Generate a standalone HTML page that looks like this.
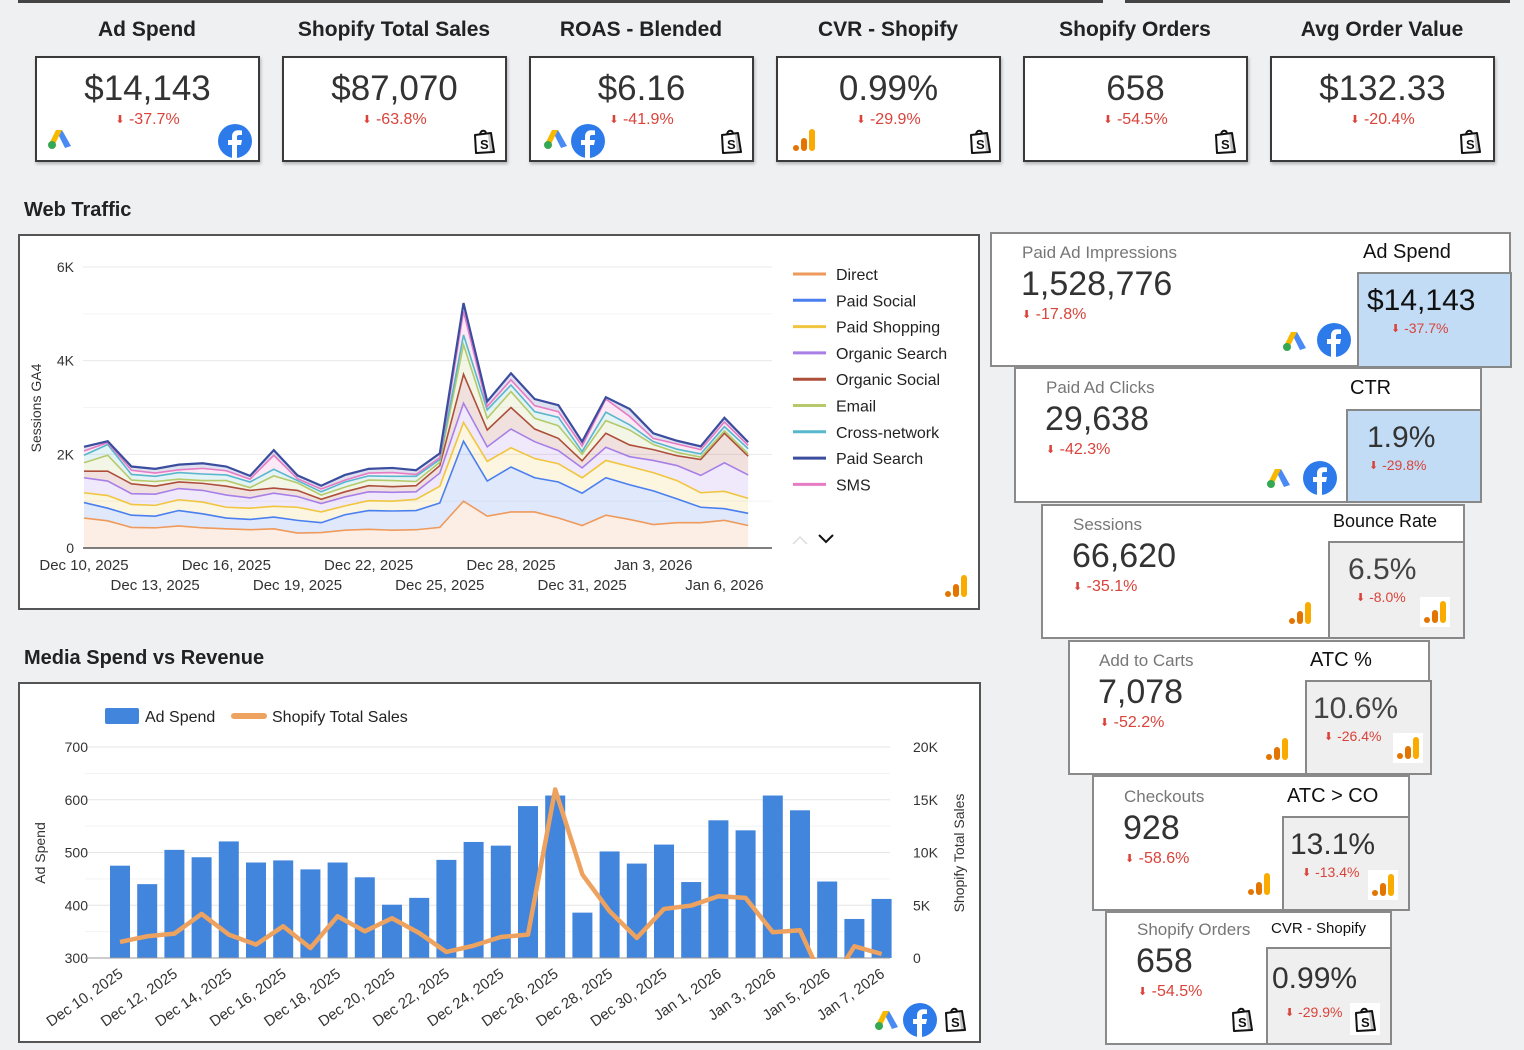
<!DOCTYPE html>
<html><head><meta charset="utf-8">
<style>
body{margin:0;width:1524px;height:1050px;background:#eef0f2;font-family:"Liberation Sans",sans-serif;position:relative;overflow:hidden}
.a{position:absolute}
.kt{position:absolute;font-weight:bold;font-size:21px;color:#222;text-align:center;width:240px;top:18px}
.kc{position:absolute;top:56px;width:221px;height:102px;background:#fff;border:2px solid #3a3a3a;box-shadow:1px 2px 3px rgba(0,0,0,.25)}
.kv{position:absolute;left:0;width:100%;top:11px;text-align:center;font-size:35px;color:#333}
.kd{position:absolute;left:0;width:100%;top:53px;text-align:center;font-size:16px;color:#d9433a}
.arr{font-size:11px;vertical-align:1px}
.card{position:absolute;background:#fff;border:2px solid #8a8a8a}
.lbl{position:absolute;font-size:17px;color:#777}
.val{position:absolute;font-size:34px;color:#333}
.dl{position:absolute;font-size:16px;color:#d9433a}
.rt{position:absolute;font-size:20px;color:#111}
.box{position:absolute;border:2px solid #888}
.sec{position:absolute;font-weight:bold;font-size:20px;color:#222}
svg text{font-family:"Liberation Sans",sans-serif}
</style></head><body>
<div class="a" style="left:18px;top:-4px;width:1085px;height:4px;border-bottom:3px solid #444"></div>
<div class="a" style="left:1125px;top:-4px;width:385px;height:4px;border-bottom:3px solid #444"></div>

<div class="kt" style="left:27px">Ad Spend</div>
<div class="kc" style="left:35px"><div class="kv">$14,143</div><div class="kd"><span class="arr">⬇</span> -37.7%</div><span class="ico" data-i="ads" style="left:10px;top:70px"></span><span class="ico" data-i="fb" style="left:181px;top:66px"></span></div>
<div class="kt" style="left:274px">Shopify Total Sales</div>
<div class="kc" style="left:282px"><div class="kv">$87,070</div><div class="kd"><span class="arr">⬇</span> -63.8%</div><span class="ico" data-i="shop" style="left:188px;top:70px"></span></div>
<div class="kt" style="left:521px">ROAS - Blended</div>
<div class="kc" style="left:529px"><div class="kv">$6.16</div><div class="kd"><span class="arr">⬇</span> -41.9%</div><span class="ico" data-i="ads" style="left:12px;top:70px"></span><span class="ico" data-i="fb" style="left:40px;top:66px"></span><span class="ico" data-i="shop" style="left:188px;top:70px"></span></div>
<div class="kt" style="left:768px">CVR - Shopify</div>
<div class="kc" style="left:776px"><div class="kv">0.99%</div><div class="kd"><span class="arr">⬇</span> -29.9%</div><span class="ico" data-i="ga" style="left:14px;top:70px"></span><span class="ico" data-i="shop" style="left:190px;top:70px"></span></div>
<div class="kt" style="left:1015px">Shopify Orders</div>
<div class="kc" style="left:1023px"><div class="kv">658</div><div class="kd"><span class="arr">⬇</span> -54.5%</div><span class="ico" data-i="shop" style="left:188px;top:70px"></span></div>
<div class="kt" style="left:1262px">Avg Order Value</div>
<div class="kc" style="left:1270px"><div class="kv">$132.33</div><div class="kd"><span class="arr">⬇</span> -20.4%</div><span class="ico" data-i="shop" style="left:186px;top:70px"></span></div>

<div class="sec" style="left:24px;top:199px">Web Traffic</div>
<div class="a" style="left:18px;top:234px;width:958px;height:372px;background:#fff;border:2px solid #555">
<svg id="wt" width="962" height="376" style="position:absolute;left:-2px;top:-2px"><g id="wtg" transform="translate(-18,-234)"></g></svg>
</div>

<div class="sec" style="left:24px;top:647px">Media Spend vs Revenue</div>
<div class="a" style="left:18px;top:682px;width:959px;height:357px;background:#fff;border:2px solid #555">
<svg id="ms" width="963" height="361" style="position:absolute;left:-2px;top:-2px"><g id="msg" transform="translate(-18,-682)"></g></svg>
</div>

<div class="card" style="left:990px;top:232px;width:517px;height:131px"></div>
<div class="lbl" style="left:1022px;top:243px">Paid Ad Impressions</div>
<div class="val" style="left:1021px;top:265px">1,528,776</div>
<div class="dl" style="left:1022px;top:306px"><span class="arr">⬇</span> -17.8%</div>
<span class="ico" data-i="ads" style="left:1282px;top:330px"></span><span class="ico" data-i="fb" style="left:1317px;top:323px"></span>
<div class="rt" style="left:1363px;top:241px">Ad Spend</div>
<div class="box" style="left:1357px;top:272px;width:151px;height:92px;background:#c2dcf6"></div>
<div class="a" style="left:1367px;top:284px;font-size:30px;color:#111">$14,143</div>
<div class="dl" style="left:1391px;top:320px;font-size:14px"><span class="arr">⬇</span> -37.7%</div>

<div class="card" style="left:1014px;top:367px;width:464px;height:132px"></div>
<div class="lbl" style="left:1046px;top:378px">Paid Ad Clicks</div>
<div class="val" style="left:1045px;top:400px">29,638</div>
<div class="dl" style="left:1046px;top:441px"><span class="arr">⬇</span> -42.3%</div>
<span class="ico" data-i="ads" style="left:1266px;top:467px"></span><span class="ico" data-i="fb" style="left:1303px;top:461px"></span>
<div class="rt" style="left:1350px;top:377px">CTR</div>
<div class="box" style="left:1346px;top:409px;width:132px;height:90px;background:#c2dcf6"></div>
<div class="a" style="left:1367px;top:421px;font-size:30px;color:#333">1.9%</div>
<div class="dl" style="left:1369px;top:457px;font-size:14px"><span class="arr">⬇</span> -29.8%</div>

<div class="card" style="left:1041px;top:504px;width:420px;height:131px"></div>
<div class="lbl" style="left:1073px;top:515px">Sessions</div>
<div class="val" style="left:1072px;top:537px">66,620</div>
<div class="dl" style="left:1073px;top:578px"><span class="arr">⬇</span> -35.1%</div>
<span class="ico" data-i="ga" style="left:1288px;top:601px"></span>
<div class="rt" style="left:1333px;top:511px;font-size:18px">Bounce Rate</div>
<div class="box" style="left:1328px;top:541px;width:133px;height:94px;background:#efefef"></div>
<div class="a" style="left:1348px;top:553px;font-size:30px;color:#444">6.5%</div>
<div class="dl" style="left:1356px;top:589px;font-size:14px"><span class="arr">⬇</span> -8.0%</div>
<span class="ico wb" data-i="ga" style="left:1420px;top:597px"></span>

<div class="card" style="left:1068px;top:640px;width:358px;height:131px"></div>
<div class="lbl" style="left:1099px;top:651px">Add to Carts</div>
<div class="val" style="left:1098px;top:673px">7,078</div>
<div class="dl" style="left:1100px;top:714px"><span class="arr">⬇</span> -52.2%</div>
<span class="ico" data-i="ga" style="left:1265px;top:737px"></span>
<div class="rt" style="left:1310px;top:649px">ATC %</div>
<div class="box" style="left:1305px;top:680px;width:123px;height:91px;background:#efefef"></div>
<div class="a" style="left:1313px;top:692px;font-size:30px;color:#444">10.6%</div>
<div class="dl" style="left:1324px;top:728px;font-size:14px"><span class="arr">⬇</span> -26.4%</div>
<span class="ico wb" data-i="ga" style="left:1393px;top:733px"></span>

<div class="card" style="left:1092px;top:775px;width:314px;height:132px"></div>
<div class="lbl" style="left:1124px;top:787px">Checkouts</div>
<div class="val" style="left:1123px;top:809px">928</div>
<div class="dl" style="left:1125px;top:850px"><span class="arr">⬇</span> -58.6%</div>
<span class="ico" data-i="ga" style="left:1247px;top:872px"></span>
<div class="rt" style="left:1287px;top:785px">ATC &gt; CO</div>
<div class="box" style="left:1282px;top:816px;width:124px;height:91px;background:#efefef"></div>
<div class="a" style="left:1290px;top:828px;font-size:30px;color:#333">13.1%</div>
<div class="dl" style="left:1302px;top:864px;font-size:14px"><span class="arr">⬇</span> -13.4%</div>
<span class="ico wb" data-i="ga" style="left:1368px;top:870px"></span>

<div class="card" style="left:1105px;top:911px;width:283px;height:130px"></div>
<div class="lbl" style="left:1137px;top:920px">Shopify Orders</div>
<div class="val" style="left:1136px;top:942px">658</div>
<div class="dl" style="left:1138px;top:983px"><span class="arr">⬇</span> -54.5%</div>
<span class="ico" data-i="shop" style="left:1230px;top:1006px"></span>
<div class="rt" style="left:1271px;top:920px;font-size:15px">CVR - Shopify</div>
<div class="box" style="left:1266px;top:947px;width:122px;height:94px;background:#efefef"></div>
<div class="a" style="left:1272px;top:962px;font-size:30px;color:#333">0.99%</div>
<div class="dl" style="left:1285px;top:1004px;font-size:14px"><span class="arr">⬇</span> -29.9%</div>
<span class="ico wb" data-i="shop" style="left:1350px;top:1003px"></span>

<span class="ico" data-i="ga" style="left:944px;top:574px"></span>
<span class="ico" data-i="ads" style="left:874px;top:1009px"></span>
<span class="ico" data-i="fb" style="left:903px;top:1003px"></span>
<span class="ico" data-i="shop" style="left:943px;top:1006px"></span>

<script>
const wtDates = ["Dec 10","Dec 11","Dec 12","Dec 13","Dec 14","Dec 15","Dec 16","Dec 17","Dec 18","Dec 19","Dec 20","Dec 21","Dec 22","Dec 23","Dec 24","Dec 25","Dec 26","Dec 27","Dec 28","Dec 29","Dec 30","Dec 31","Jan 1","Jan 2","Jan 3","Jan 4","Jan 5","Jan 6","Jan 7"];
const direct      = [640,580,440,430,470,430,410,390,410,320,330,380,400,380,390,440,1000,680,770,770,640,480,700,610,500,540,540,590,480];
const paidSocial  = [330,270,260,250,330,300,230,220,250,270,210,330,400,410,410,520,1280,750,960,730,770,690,800,740,720,510,330,250,260];
const paidShopping= [210,270,230,230,230,250,230,240,230,280,230,190,210,210,240,360,400,420,410,410,390,330,370,390,390,390,310,370,320];
const organicSearch=[320,310,230,240,240,250,260,220,280,230,180,190,190,190,160,280,410,310,400,360,280,210,280,210,260,320,370,610,500];
const organicSocial=[140,210,210,170,140,150,190,160,110,130,90,110,130,120,130,160,620,360,460,270,260,150,300,250,230,210,340,630,400];
const email       = [180,340,80,100,60,60,120,60,260,160,90,100,120,130,90,70,630,250,340,230,270,140,270,320,110,70,50,50,50];
const crossNetwork= [160,230,120,110,140,140,120,120,140,50,70,110,90,90,110,60,210,180,140,140,180,60,180,110,60,70,70,90,110];
const paidSearch  = [90,30,80,90,110,110,90,70,110,70,70,110,90,100,90,90,180,110,140,140,140,90,40,160,110,70,70,90,70];
const sms         = [90,40,90,70,60,120,90,60,300,40,60,40,60,80,40,40,500,70,110,130,120,120,280,180,70,110,90,100,70];
const wtSeries = [direct,paidSocial,paidShopping,organicSearch,organicSocial,email,crossNetwork,sms,paidSearch];
const wtStackNames = ["Direct","Paid Social","Paid Shopping","Organic Search","Organic Social","Email","Cross-network","SMS","Paid Search"];
const wtNames = ["Direct","Paid Social","Paid Shopping","Organic Search","Organic Social","Email","Cross-network","Paid Search","SMS"];
const wtTicks = [0,2000,4000,6000];
const wtTickLabels = ["0","2K","4K","6K"];
const wtXLabels = [["Dec 10, 2025",0,0],["Dec 13, 2025",3,1],["Dec 16, 2025",6,0],["Dec 19, 2025",9,1],["Dec 22, 2025",12,0],["Dec 25, 2025",15,1],["Dec 28, 2025",18,0],["Dec 31, 2025",21,1],["Jan 3, 2026",24,0],["Jan 6, 2026",27,1]];

const msDates = ["Dec 10, 2025","Dec 11, 2025","Dec 12, 2025","Dec 13, 2025","Dec 14, 2025","Dec 15, 2025","Dec 16, 2025","Dec 17, 2025","Dec 18, 2025","Dec 19, 2025","Dec 20, 2025","Dec 21, 2025","Dec 22, 2025","Dec 23, 2025","Dec 24, 2025","Dec 25, 2025","Dec 26, 2025","Dec 27, 2025","Dec 28, 2025","Dec 29, 2025","Dec 30, 2025","Dec 31, 2025","Jan 1, 2026","Jan 2, 2026","Jan 3, 2026","Jan 4, 2026","Jan 5, 2026","Jan 6, 2026","Jan 7, 2026"];
const adSpend = [475,440,505,491,521,481,485,468,481,453,401,414,486,520,513,588,608,386,502,479,515,444,561,542,608,580,445,374,412];
const shopifySales = [1520,2060,2310,4180,2220,1270,3010,950,3960,2530,3770,2370,570,1170,1990,2220,15980,7910,4430,1900,4650,4970,5850,5700,2440,2630,-3000,1110,380];
const leftTicks = [300,400,500,600,700];
const rightTicks = [0,5000,10000,15000,20000];
const rightTickLabels = ["0","5K","10K","15K","20K"];

const NS="http://www.w3.org/2000/svg";
function mk(parent,tag,attrs,txt){const e=document.createElementNS(NS,tag);for(const k in attrs)e.setAttribute(k,attrs[k]);if(txt!==undefined)e.textContent=txt;parent.appendChild(e);return e;}

(function(){
 const g=document.getElementById('wtg');
 const x0=84,dx=23.72,y0=548,yTop=267;
 const xs=i=>x0+dx*i, ys=v=>y0-(v/6000)*(y0-yTop);
 const colorMap={"Direct":"#ee9a5d","Paid Social":"#4a7ff0","Paid Shopping":"#f0c53f","Organic Search":"#a77fe6","Organic Social":"#ad4f3a","Email":"#b6c96a","Cross-network":"#58b7cb","Paid Search":"#3b4d9e","SMS":"#e57cc4"};
 for(let v=1000;v<=6000;v+=1000){const l=mk(g,'line',{x1:83,x2:772,y1:ys(v),y2:ys(v),stroke:v%2000?'#f4f4f4':'#e8e8e8','stroke-width':1});
  
  }
 wtTicks.forEach((v,k)=>{const t=mk(g,'text',{x:74,y:ys(v)+5,'text-anchor':'end','font-size':14,fill:'#333'},wtTickLabels[k]);
  
  });
 const yt=mk(g,'text',{x:0,y:0,transform:'translate(41,408) rotate(-90)','text-anchor':'middle','font-size':14,fill:'#333'},'Sessions GA4');
 
 
 let prev=direct.map(()=>0);
 const tops=[];
 wtSeries.forEach((s,k)=>{const cur=s.map((v,i)=>prev[i]+v);
  let d='M'+cur.map((v,i)=>xs(i)+','+ys(v)).join(' L');
  for(let i=cur.length-1;i>=0;i--)d+=' L'+xs(i)+','+ys(prev[i]);
  const p=mk(g,'path',{d:d+'Z',fill:colorMap[wtStackNames[k]],'fill-opacity':0.17,stroke:'none'});
  
  
  tops.push(cur);prev=cur;});
 tops.forEach((cur,k)=>{const l=mk(g,'polyline',{points:cur.map((v,i)=>xs(i)+','+ys(v)).join(' '),fill:'none',stroke:colorMap[wtStackNames[k]],'stroke-width':k===tops.length-1?2.2:1.6});
  
  });
 const ax=mk(g,'line',{x1:83,x2:772,y1:y0,y2:y0,stroke:'#555','stroke-width':1.5});
 
 
 wtXLabels.forEach(([lab,i,row])=>{const t=mk(g,'text',{x:xs(i),y:row?590:570,'text-anchor':'middle','font-size':15,fill:'#333'},lab);
  
  });
 wtNames.forEach((n,k)=>{const y=274+26.3*k;
  const l=mk(g,'line',{x1:793,x2:826,y1:y,y2:y,stroke:colorMap[n],'stroke-width':3});
  
  
  const t=mk(g,'text',{x:836,y:y+6,'font-size':16,fill:'#222'},n);
  
  });
 const up=mk(g,'path',{d:'M793,544 L800,537 L807,544',fill:'none',stroke:'#ddd','stroke-width':1.5});
 
 
 const dn=mk(g,'path',{d:'M819,535 L826,542 L833,535',fill:'none',stroke:'#111','stroke-width':2});
 
 
})();

(function(){
 const g=document.getElementById('msg');
 const x0=120,dx=27.2,yb=958,yt=747;
 const xb=i=>x0+dx*i, yL=v=>yb-(v-300)/400*(yb-yt), yR=v=>yb-v/20000*(yb-yt);
 for(let v=350;v<=700;v+=50){const l=mk(g,'line',{x1:85,x2:890,y1:yL(v),y2:yL(v),stroke:v%100?'#f3f3f3':'#e6e6e6','stroke-width':1});
  
  }
 leftTicks.forEach(v=>{const t=mk(g,'text',{x:88,y:yL(v)+5,'text-anchor':'end','font-size':14,fill:'#333'},String(v));
  
  });
 rightTicks.forEach((v,k)=>{const t=mk(g,'text',{x:913,y:yR(v)+5,'font-size':14,fill:'#333'},rightTickLabels[k]);
  
  });
 adSpend.forEach((v,i)=>{const r=mk(g,'rect',{x:xb(i)-10,y:yL(v),width:20,height:yb-yL(v),fill:'#4285dc'});
  
  });
 const ax=mk(g,'line',{x1:85,x2:890,y1:yb,y2:yb,stroke:'#999','stroke-width':1});
 
 
 const defs=mk(g,'defs',{});const cp=mk(defs,'clipPath',{id:'msclip'});mk(cp,'rect',{x:85,y:700,width:810,height:yb-700+1});
 const ln=mk(g,'polyline',{points:shopifySales.map((v,i)=>xb(i)+','+yR(v)).join(' '),fill:'none',stroke:'#eda35f','stroke-width':4.5,'stroke-linejoin':'round','clip-path':'url(#msclip)'});
 
 
 msDates.forEach((d,i)=>{if(i%2)return;const t=mk(g,'text',{x:0,y:0,transform:'translate('+(xb(i)+4)+',976) rotate(-35)','text-anchor':'end','font-size':15,fill:'#333'},d);
  
  });
 const a1=mk(g,'text',{x:0,y:0,transform:'translate(45,853) rotate(-90)','text-anchor':'middle','font-size':14,fill:'#333'},'Ad Spend');
 
 
 const a2=mk(g,'text',{x:0,y:0,transform:'translate(964,853) rotate(-90)','text-anchor':'middle','font-size':14,fill:'#333'},'Shopify Total Sales');
 
 
 const s1=mk(g,'rect',{x:105,y:708,width:34,height:16,rx:2,fill:'#4285dc'});
 
 
 const l1=mk(g,'text',{x:145,y:722,'font-size':16,fill:'#222'},'Ad Spend');
 
 
 const s2=mk(g,'line',{x1:234,x2:264,y1:716,y2:716,stroke:'#eda35f','stroke-width':6,'stroke-linecap':'round'});
 
 
 const l2=mk(g,'text',{x:272,y:722,'font-size':16,fill:'#222'},'Shopify Total Sales');
 
 
})();

const ICONS={
 ads:'<svg width="26" height="22" viewBox="0 0 26 22"><path d="M9 2 L15 2 L24 18 L18 20 Z" fill="#4a8af4"/><path d="M9 2 L15 2 L8 16 L3 14 Z" fill="#f6b900"/><circle cx="5" cy="17" r="4" fill="#34a853"/></svg>',
 fb:'<svg width="34" height="34" viewBox="0 0 34 34"><circle cx="17" cy="17" r="17" fill="#2d7bea"/><path d="M19 34 V21 H23 L24 16 H19 V13 C19 11.5 19.7 11 21 11 H24 V6.5 C23 6.3 21.5 6.2 20.3 6.2 C16.5 6.2 14 8.3 14 12.5 V16 H10 V21 H14 V34 Z" fill="#fff"/></svg>',
 shop:'<svg width="24" height="26" viewBox="0 0 24 26"><path d="M3 7 L19 5 L22 24 L4 25 Z" fill="#fff" stroke="#111" stroke-width="2" stroke-linejoin="round"/><path d="M8 7 C8 2 14 1 14 6" fill="none" stroke="#111" stroke-width="2"/><path d="M19 5 L16 6 L18 24 L22 24" fill="#111" opacity=".25"/><text x="8" y="21" font-size="13" font-weight="bold" font-family="Liberation Sans" fill="#111">S</text></svg>',
 ga:'<svg width="24" height="24" viewBox="0 0 24 24"><circle cx="4" cy="20" r="3" fill="#e37400"/><rect x="9" y="10" width="6" height="13" rx="3" fill="#e37400"/><rect x="17" y="1" width="6" height="22" rx="3" fill="#f9ab00"/></svg>'
};
const NAMES={ads:'google-ads-icon',fb:'facebook-icon',shop:'shopify-icon',ga:'google-analytics-icon'};
document.querySelectorAll('.ico').forEach(el=>{const k=el.getAttribute('data-i');el.style.position='absolute';el.style.lineHeight='0';
 if(el.classList.contains('wb')){el.style.background='#fff';el.style.padding='3px';}
 el.innerHTML=ICONS[k];
 
 });
</script>
</body></html>
